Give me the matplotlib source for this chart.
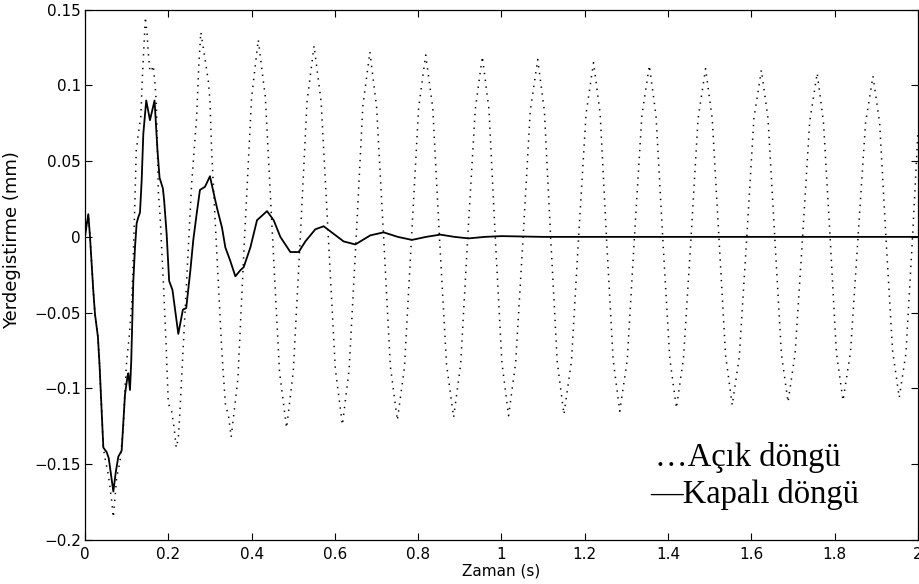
import matplotlib.pyplot as plt

# open loop response (dotted)
open_t = [0.000, 0.008, 0.012, 0.020, 0.024, 0.031, 0.035, 0.040, 0.044, 0.048,
          0.056, 0.060, 0.064, 0.068, 0.072, 0.076, 0.084, 0.092, 0.096, 0.100,
          0.106, 0.112, 0.116, 0.120, 0.123, 0.128, 0.134, 0.137, 0.141, 0.145,
          0.149, 0.152, 0.156, 0.160, 0.164, 0.168, 0.171, 0.173, 0.176, 0.180,
          0.188, 0.195, 0.198, 0.200, 0.208, 0.214, 0.219, 0.224, 0.228, 0.232,
          0.244, 0.252, 0.256, 0.262, 0.268, 0.273, 0.278, 0.285, 0.291, 0.296,
          0.300, 0.304, 0.308, 0.320, 0.328, 0.332, 0.337, 0.345, 0.351,
          0.367, 0.383, 0.400, 0.416, 0.433, 0.450, 0.467, 0.484,
          0.500, 0.517, 0.533, 0.550, 0.567, 0.584, 0.601, 0.618,
          0.634, 0.651, 0.667, 0.684, 0.700, 0.717, 0.733, 0.750,
          0.767, 0.784, 0.801, 0.818, 0.835, 0.851, 0.868, 0.885,
          0.902, 0.919, 0.937, 0.954, 0.970, 0.985, 1.001, 1.017,
          1.034, 1.052, 1.069, 1.087, 1.103, 1.118, 1.134, 1.150,
          1.168, 1.185, 1.203, 1.221, 1.237, 1.252, 1.268, 1.284,
          1.302, 1.319, 1.337, 1.355, 1.371, 1.387, 1.404, 1.420,
          1.437, 1.455, 1.472, 1.490, 1.506, 1.522, 1.538, 1.554,
          1.571, 1.589, 1.606, 1.624, 1.640, 1.656, 1.672, 1.688,
          1.705, 1.723, 1.740, 1.758, 1.773, 1.789, 1.804, 1.820,
          1.838, 1.856, 1.874, 1.892, 1.908, 1.923, 1.939, 1.955,
          1.971, 1.987, 2.000]
open_y = [0.000, 0.015, 0.000, -0.036, -0.051, -0.066, -0.085, -0.115, -0.139, -0.146,
          -0.157, -0.165, -0.174, -0.185, -0.172, -0.159, -0.148, -0.126, -0.100, -0.082,
          -0.066, -0.045, -0.012, 0.025, 0.057, 0.068, 0.079, 0.101, 0.123, 0.145,
          0.134, 0.121, 0.109, 0.110, 0.113, 0.101, 0.090, 0.068, 0.030, 0.015,
          -0.029, -0.073, -0.095, -0.110, -0.115, -0.126, -0.139, -0.133, -0.115, -0.093,
          -0.029, 0.015, 0.035, 0.057, 0.079, 0.112, 0.135, 0.123, 0.112, 0.103,
          0.090, 0.057, 0.035, -0.029, -0.073, -0.090, -0.110, -0.119, -0.132,
          -0.094, -0.001, 0.092, 0.130, 0.092, 0.002, -0.089, -0.126,
          -0.089, 0.000, 0.089, 0.126, 0.089, 0.001, -0.087, -0.124,
          -0.088, -0.001, 0.086, 0.122, 0.086, 0.000, -0.085, -0.121,
          -0.086, 0.000, 0.085, 0.120, 0.085, 0.000, -0.084, -0.119,
          -0.084, 0.000, 0.084, 0.119, 0.084, 0.000, -0.083, -0.118,
          -0.083, 0.000, 0.083, 0.117, 0.083, 0.000, -0.083, -0.117,
          -0.082, -0.001, 0.081, 0.115, 0.081, 0.000, -0.081, -0.115,
          -0.081, -0.001, 0.080, 0.113, 0.080, 0.000, -0.080, -0.113,
          -0.080, -0.001, 0.078, 0.111, 0.078, 0.000, -0.078, -0.111,
          -0.079, 0.000, 0.078, 0.110, 0.078, 0.000, -0.077, -0.109,
          -0.077, 0.000, 0.076, 0.108, 0.076, 0.000, -0.076, -0.108,
          -0.076, -0.001, 0.075, 0.106, 0.075, 0.000, -0.075, -0.106,
          -0.077, 0.000, 0.070]

# closed loop response (solid)
closed_t = [0.000, 0.004, 0.008, 0.012, 0.020, 0.024, 0.031, 0.035, 0.040, 0.044,
            0.052, 0.057, 0.068, 0.074, 0.080, 0.088, 0.096, 0.102, 0.104, 0.108,
            0.111, 0.116, 0.120, 0.124, 0.128, 0.132, 0.136, 0.140, 0.147, 0.156,
            0.167, 0.174, 0.179, 0.187, 0.190, 0.196, 0.202, 0.210, 0.224, 0.235,
            0.243, 0.253, 0.260, 0.268, 0.276, 0.288, 0.300, 0.308, 0.317, 0.329,
            0.337, 0.349, 0.361, 0.373, 0.381, 0.397, 0.413, 0.437, 0.453, 0.469,
            0.493, 0.513, 0.529, 0.553, 0.573, 0.597, 0.621, 0.649, 0.685, 0.717,
            0.751, 0.785, 0.819, 0.853, 0.887, 0.921, 0.960, 1.000, 1.100, 2.000]
closed_y = [0.000, 0.008, 0.015, 0.000, -0.036, -0.051, -0.066, -0.085, -0.115, -0.139,
            -0.142, -0.146, -0.168, -0.155, -0.145, -0.141, -0.104, -0.092, -0.090, -0.101,
            -0.082, -0.029, -0.007, 0.009, 0.013, 0.016, 0.037, 0.068, 0.090, 0.077,
            0.090, 0.057, 0.039, 0.032, 0.024, 0.002, -0.029, -0.035, -0.064, -0.048,
            -0.047, -0.022, -0.002, 0.015, 0.031, 0.033, 0.040, 0.030, 0.019, 0.006,
            -0.007, -0.016, -0.026, -0.022, -0.020, -0.007, 0.011, 0.017, 0.011, 0.000,
            -0.010, -0.010, -0.003, 0.005, 0.007, 0.002, -0.003, -0.005, 0.001, 0.003,
            0.000, -0.002, 0.000, 0.0015, 0.000, -0.001, 0.000, 0.0005, 0.000, 0.000]

x_ticks = [0, 0.2, 0.4, 0.6, 0.8, 1.0, 1.2, 1.4, 1.6, 1.8, 2.0]
x_labels = ['0', '0.2', '0.4', '0.6', '0.8', '1', '1.2', '1.4', '1.6', '1.8', '2']
y_ticks = [-0.2, -0.15, -0.1, -0.05, 0, 0.05, 0.1, 0.15]
y_labels = ['\u22120.2', '\u22120.15', '\u22120.1', '\u22120.05', '0', '0.05', '0.1', '0.15']

fig = plt.figure(figsize=(9.2, 5.84), dpi=100)
ax = fig.add_axes([0.0924, 0.0753, 0.9054, 0.9084])

ax.plot(open_t, open_y, color='black', lw=1.1, linestyle=(0, (0.9, 3.6)))
ax.plot(closed_t, closed_y, color='black', lw=1.3)

ax.set_xlim(0, 2)
ax.set_ylim(-0.2, 0.15)
ax.set_xticks(x_ticks)
ax.set_xticklabels(x_labels)
ax.set_yticks(y_ticks)
ax.set_yticklabels(y_labels)
ax.tick_params(direction='in', top=True, right=True, length=5, width=0.8, labelsize=11)
ax.tick_params(axis='x', pad=5)
ax.tick_params(axis='y', pad=3)
for s in ax.spines.values():
    s.set_linewidth(0.9)

ax.set_xlabel('Zaman (s)', fontsize=11)
ax.xaxis.set_label_coords(0.5, -0.0585)
ax.xaxis.label.set_va('center')
ax.set_ylabel('Yerdegistirme (mm)', fontsize=13)
ax.yaxis.set_label_coords(-0.0876, 0.566)
ax.yaxis.label.set_va('center')

ax.text(1.368, -0.151, '\u2026A\u00e7\u0131k d\u00f6ng\u00fc', family='Liberation Serif', fontsize=23.5)
ax.text(1.357, -0.1753, '\u2014Kapal\u0131 d\u00f6ng\u00fc', family='Liberation Serif', fontsize=23.5)

fig.savefig('out.png', dpi=100)
